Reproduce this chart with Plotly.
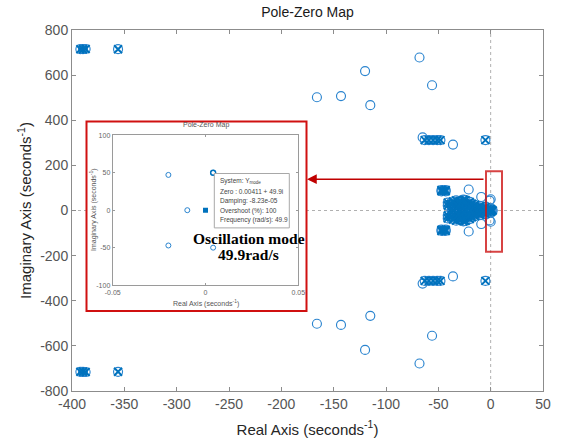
import plotly.graph_objects as go

# ---------------- data ----------------
# zeros (circles) of the main map
zero_re = [-68, -68, -120, -120, -166, -166, -143, -143, -115, -115, -56, -56,
           -65, -65, -36, -36, -21, -21, -9, -9, 0, 0, -1, -1,
           -392, -392, -389.5, -389.5, -387, -387, -356, -356,
           -63, -63, -59, -59, -55, -55, -51, -51, -48, -48, -5, -5,
           -47, -47, -43, -43, -47, -47, -43, -43, -45, -45,
           -41, -41, -41, -41, -37, -37, -33, -33, -33, -33, -33, -33,
           -29, -29, -29, -29, -27, -27, -24, -24, -24, -24, -22, -22,
           -20, -20, -19, -19, -17, -17, -15, -15, -13, -13, -10, -10,
           -8, -8, -5, -5, -3, -3, 0, 0, 2, -1,
           -38, -38, -36, -36, -35, -35, -31, -31, -31, -31, -28, -28,
           -27, -27, -26, -26, -23, -23, -21, -21, -18, -18, -16, -16,
           -12, -12, -11, -11, -6, -6, -4, 1, 1]
zero_im = [678, -678, 618, -618, 502, -502, 507, -507, 467, -467, 555, -555,
           324, -324, 292, -292, 93, -93, 60, -60, 50, -50, 44, -44,
           715, -715, 715, -715, 716, -716, 715, -715,
           312, -312, 312, -312, 312, -312, 312, -312, 312, -312, 312, -312,
           85, -85, 85, -85, 91, -91, 91, -91, 88, -88,
           35, -35, 22, -22, 8, -8, 45, -45, 28, -28, 12, -12,
           42, -42, 24, -24, 6, -6, 46, -46, 30, -30, 14, -14,
           38, -38, 22, -22, 6, -6, 25, -25, 12, -12, 20, -20,
           6, -6, 16, -16, 6, -6, 8, -8, 0, 0,
           30, -30, 40, -40, 20, -20, 35, -35, 18, -18, 32, -32,
           15, -15, 48, -48, 22, -22, 8, -8, 30, -30, 16, -16,
           5, -5, 14, -14, 10, -10, 0, 4, -4]

# poles (crosses) of the main map
pole_re = [-392, -392, -389.5, -389.5, -387, -387, -356, -356,
           -63, -63, -59, -59, -55, -55, -51, -51, -48, -48, -5, -5,
           -47, -47, -43, -43, -47, -47, -43, -43, -45, -45,
           -41, -41, -41, -41, -37, -37, -33, -33, -33, -33, -33, -33,
           -29, -29, -29, -29, -27, -27, -24, -24, -24, -24, -22, -22,
           -20, -20, -19, -19, -17, -17, -15, -15, -13, -13, -10, -10,
           -8, -8, -5, -5, -3, -3, 0, 0, 2, -1,
           -38, -38, -36, -36, -35, -35, -31, -31, -31, -31, -28, -28,
           -27, -27, -26, -26, -23, -23, -21, -21, -18, -18, -16, -16,
           -12, -12, -11, -11, -6, -6, -4, 1, 1]
pole_im = [715, -715, 715, -715, 716, -716, 715, -715,
           312, -312, 312, -312, 312, -312, 312, -312, 312, -312, 312, -312,
           85, -85, 85, -85, 91, -91, 91, -91, 88, -88,
           35, -35, 22, -22, 8, -8, 45, -45, 28, -28, 12, -12,
           42, -42, 24, -24, 6, -6, 46, -46, 30, -30, 14, -14,
           38, -38, 22, -22, 6, -6, 25, -25, 12, -12, 20, -20,
           6, -6, 16, -16, 6, -6, 8, -8, 0, 0,
           30, -30, 40, -40, 20, -20, 35, -35, 18, -18, 32, -32,
           15, -15, 48, -48, 22, -22, 8, -8, 30, -30, 16, -16,
           5, -5, 14, -14, 10, -10, 0, 4, -4]

x_ticks = [-400, -350, -300, -250, -200, -150, -100, -50, 0, 50]
x_ticklabels = ["-400", "-350", "-300", "-250", "-200", "-150", "-100", "-50", "0", "50"]
y_ticks = [-800, -600, -400, -200, 0, 200, 400, 600, 800]
y_ticklabels = ["-800", "-600", "-400", "-200", "0", "200", "400", "600", "800"]

# inset (zoom on the oscillation mode)
inset_zero_re = [-0.02, -0.02, -0.0098, 0.00411, 0.00411]
inset_zero_im = [47, -47, 0, 49.9, -49.9]
inset_pole_re = [0.0]
inset_pole_im = [0.0]
inset_sel_re = [0.00411]
inset_sel_im = [49.9]
inset_x_ticks = [-0.05, 0, 0.05]
inset_x_ticklabels = ["-0.05", "0", "0.05"]
inset_y_ticks = [-100, -50, 0, 50, 100]
inset_y_ticklabels = ["-100", "-50", "0", "50", "100"]

tooltip_lines = ["System: Y<sub>mode</sub>", "Zero : 0.00411 + 49.9i",
                 "Damping: -8.23e-05", "Overshoot (%): 100",
                 "Frequency (rad/s): 49.9"]

# ---------------- layout helpers ----------------
W, H = 563, 447
L, R, T, B = 72, 20, 30, 54
PW, PH = W - L - R, H - T - B


def px(xp):
    return (xp - L) / PW


def py(yp):
    return (H - B - yp) / PH


ZC = "#2a84cf"
PC = "#0072bd"
FONT = "Liberation Sans, Arial, sans-serif"

fig = go.Figure()

fig.add_trace(go.Scatter(x=zero_re, y=zero_im, mode="markers", showlegend=False,
                         marker=dict(symbol="circle-open", size=9, color=ZC,
                                     line=dict(width=1.15, color=ZC))))
fig.add_trace(go.Scatter(x=pole_re, y=pole_im, mode="markers", showlegend=False,
                         marker=dict(symbol="x-thin-open", size=8, color=PC,
                                     line=dict(width=2, color=PC))))

# inset traces
fig.add_trace(go.Scatter(x=inset_zero_re, y=inset_zero_im, mode="markers", showlegend=False,
                         xaxis="x2", yaxis="y2",
                         marker=dict(symbol="circle-open", size=5, color=ZC,
                                     line=dict(width=1, color=ZC))))
fig.add_trace(go.Scatter(x=inset_sel_re, y=inset_sel_im, mode="markers", showlegend=False,
                         xaxis="x2", yaxis="y2",
                         marker=dict(symbol="circle-open", size=5, color=PC,
                                     line=dict(width=1.4, color=PC))))
fig.add_trace(go.Scatter(x=inset_pole_re, y=inset_pole_im, mode="markers", showlegend=False,
                         xaxis="x2", yaxis="y2",
                         marker=dict(symbol="square", size=5, color=PC)))

axis_common = dict(showgrid=False, zeroline=False, showline=True, linecolor="#8c8c8c",
                   linewidth=1, mirror="ticks", ticks="inside", ticklen=4,
                   tickcolor="#8c8c8c", tickfont=dict(size=14, color="#555555", family=FONT))

fig.update_layout(
    width=W, height=H, margin=dict(l=L, r=R, t=T, b=B),
    paper_bgcolor="white", plot_bgcolor="white",
    font=dict(family=FONT),
    title=dict(text="Pole-Zero Map", x=0.5, xref="paper", xanchor="center",
               y=1 - 12 / H, yref="container", yanchor="middle",
               font=dict(size=14, color="#1a1a1a", family=FONT)),
    xaxis=dict(range=[-400, 50], tickvals=x_ticks, ticktext=x_ticklabels,
               title=dict(text="Real Axis (seconds<sup>-1</sup>)",
                          font=dict(size=15, color="#262626", family=FONT), standoff=13),
               **axis_common),
    yaxis=dict(range=[-800, 800], tickvals=y_ticks, ticktext=y_ticklabels,
               title=dict(text="Imaginary Axis (seconds<sup>-1</sup>)",
                          font=dict(size=15, color="#262626", family=FONT), standoff=4),
               **axis_common),
    xaxis2=dict(domain=[px(112.7), px(298.3)], anchor="y2", range=[-0.05, 0.05],
                tickvals=inset_x_ticks, ticktext=inset_x_ticklabels,
                showgrid=False, zeroline=False, showline=True, linecolor="#9a9a9a",
                mirror="ticks", ticks="inside", ticklen=2, tickcolor="#9a9a9a",
                tickfont=dict(size=7, color="#666666", family=FONT)),
    yaxis2=dict(domain=[py(286.7), py(135.7)], anchor="x2", range=[-100, 100],
                tickvals=inset_y_ticks, ticktext=inset_y_ticklabels,
                showgrid=False, zeroline=False, showline=True, linecolor="#9a9a9a",
                mirror="ticks", ticks="inside", ticklen=2, tickcolor="#9a9a9a",
                tickfont=dict(size=7, color="#666666", family=FONT)),
)

shapes = []
# main dotted zero lines
shapes.append(dict(type="line", xref="paper", yref="y", x0=0, x1=1, y0=0, y1=0,
                   layer="below", line=dict(color="#b0b0b0", width=1, dash="dot")))
shapes.append(dict(type="line", xref="x", yref="paper", x0=0, x1=0, y0=0, y1=1,
                   layer="below", line=dict(color="#b0b0b0", width=1, dash="dot")))
# inset frame (white background + red border)
shapes.append(dict(type="rect", xref="paper", yref="paper", x0=px(86.5), x1=px(306.5),
                   y0=py(312.5), y1=py(122), layer="below", fillcolor="white",
                   line=dict(color="#d01010", width=2)))
# inset dotted zero lines
shapes.append(dict(type="line", xref="x2 domain", yref="y2", x0=0, x1=1, y0=0, y1=0,
                   layer="below", line=dict(color="#b8b8b8", width=1, dash="dot")))
shapes.append(dict(type="line", xref="x2", yref="y2 domain", x0=0, x1=0, y0=0, y1=1,
                   layer="below", line=dict(color="#b8b8b8", width=1, dash="dot")))
# data tip box
shapes.append(dict(type="rect", xref="paper", yref="paper", x0=px(214.3), x1=px(289.3),
                   y0=py(229), y1=py(174.3), layer="above", fillcolor="white",
                   line=dict(color="#a8a8a8", width=1)))
# red highlight box in main plot
shapes.append(dict(type="rect", xref="paper", yref="paper", x0=px(486), x1=px(502),
                   y0=py(253), y1=py(172), layer="above",
                   line=dict(color="rgba(205,20,20,0.8)", width=2)))
fig.update_layout(shapes=shapes)

ann = []
# arrow from the highlighted region to the inset
ann.append(dict(xref="paper", yref="paper", x=px(307), y=py(180), ax=178, ay=0,
                axref="pixel", ayref="pixel", text="", showarrow=True,
                arrowhead=2, arrowsize=1.3, arrowwidth=1.5, arrowcolor="#c00000"))
# inset title and axis titles
ann.append(dict(xref="paper", yref="paper", x=px(205.5), y=py(126), text="Pole-Zero Map",
                showarrow=False, font=dict(size=7, color="#555555", family=FONT),
                xanchor="center", yanchor="middle"))
ann.append(dict(xref="paper", yref="paper", x=px(205.5), y=py(305),
                text="Real Axis (seconds<sup>-1</sup>)", showarrow=False,
                font=dict(size=7, color="#555555", family=FONT),
                xanchor="center", yanchor="middle"))
ann.append(dict(xref="paper", yref="paper", x=px(93), y=py(211),
                text="Imaginary Axis (seconds<sup>-1</sup>)", showarrow=False, textangle=-90,
                font=dict(size=7, color="#555555", family=FONT),
                xanchor="center", yanchor="middle"))
# data tip lines
for i, line in enumerate(tooltip_lines):
    ann.append(dict(xref="paper", yref="paper", x=px(217.5), y=py(182.3 + 9.8 * i),
                    text=line, showarrow=False, xanchor="left", yanchor="middle",
                    font=dict(size=6.5, color="#444444", family=FONT)))
# oscillation mode label
ann.append(dict(xref="paper", yref="paper", x=px(248.5), y=py(239.5),
                text="<b>Oscillation mode</b>", showarrow=False,
                xanchor="center", yanchor="middle",
                font=dict(size=15.5, color="black", family="Liberation Serif, serif")))
ann.append(dict(xref="paper", yref="paper", x=px(248), y=py(255.5),
                text="<b>49.9rad/s</b>", showarrow=False,
                xanchor="center", yanchor="middle",
                font=dict(size=15.5, color="black", family="Liberation Serif, serif")))
fig.update_layout(annotations=ann)

fig.write_html("out.html", config={"displayModeBar": False},
               post_script="document.body.style.margin='0px';document.body.style.overflow='hidden';")
